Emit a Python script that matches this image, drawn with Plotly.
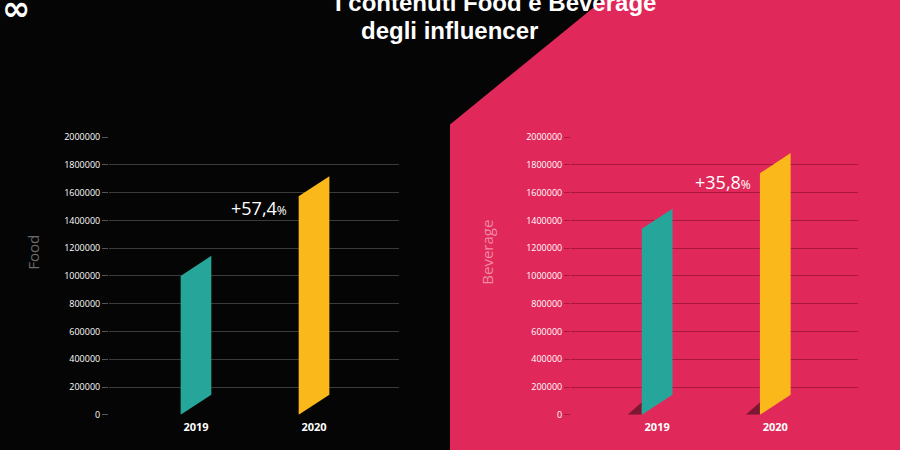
import plotly.graph_objects as go

years = ["2019", "2020"]
food = [1000000, 1574000]
beverage = [1340000, 1740000]
colors = ["#26a69a", "#fbb81b"]
growth_labels = ["+57,4", "+35,8"]
yticks = [0, 200000, 400000, 600000, 800000, 1000000, 1200000, 1400000, 1600000, 1800000, 2000000]

W, H = 900, 450
def px(x): return x / W
def py(y): return 1 - y / H

fig = go.Figure()
half = 0.13
shift = 145000

def bars(vals, xa, ya, shadow):
    for i, v in enumerate(vals):
        if shadow:
            fig.add_trace(go.Scatter(
                x=[i - half - 0.12, i - half, i - half], y=[0, 0, 90000],
                fill="toself", fillcolor="rgba(40,10,20,0.55)", line=dict(width=0),
                mode="lines", hoverinfo="skip", showlegend=False, xaxis=xa, yaxis=ya))
        fig.add_trace(go.Scatter(
            x=[i - half, i - half, i + half, i + half, i - half],
            y=[0, v, v + shift, shift, 0],
            fill="toself", fillcolor=colors[i], line=dict(width=0),
            mode="lines", hoverinfo="skip", showlegend=False, xaxis=xa, yaxis=ya))

bars(food, "x", "y", False)
bars(beverage, "x2", "y2", True)

shapes = [
    dict(type="path", xref="paper", yref="paper",
         path=f"M {px(450)} {py(470)} L {px(450)} {py(121)} L {px(612)} {py(-15)} L 1.01 {py(-15)} L 1.01 {py(470)} Z",
         fillcolor="#e0295a", line=dict(width=0), layer="below"),
]

ydom = [py(420), py(134)]
axis_common = dict(range=[0, 2000000], tickvals=yticks, ticktext=[str(t) for t in yticks],
                   ticks="outside", ticklen=6, tickfont=dict(size=9, color="white", family="Open Sans"),
                   zeroline=False, showline=False)
fig.update_layout(
    width=W, height=H, margin=dict(l=0, r=0, t=0, b=0),
    paper_bgcolor="#050505", plot_bgcolor="rgba(0,0,0,0)",
    shapes=shapes, showlegend=False,
    xaxis=dict(domain=[px(109), px(399)], range=[-0.737, 1.72], tickvals=[0, 1], ticktext=years,
               showgrid=False, zeroline=False, tickfont=dict(size=11, color="white", family="Open Sans"),
               ticklabelstandoff=4),
    yaxis=dict(domain=ydom, gridcolor="#3a3a3a", tickcolor="#555", **axis_common),
    xaxis2=dict(domain=[px(571), px(858)], range=[-0.729, 1.70], tickvals=[0, 1], ticktext=years,
                showgrid=False, zeroline=False, tickfont=dict(size=11, color="white", family="Open Sans"),
                ticklabelstandoff=4, anchor="y2"),
    yaxis2=dict(domain=ydom, gridcolor="#a8173f", tickcolor="#a8173f", anchor="x2", **axis_common),
)
fig.update_xaxes(tickfont_weight="bold")

ann = [
    dict(text="<b>I contenuti Food e Beverage</b>", x=px(495), y=py(-5), font=dict(size=24, color="white", family="Liberation Sans")),
    dict(text="<b>degli influencer</b>", x=px(449), y=py(24), font=dict(size=24, color="white", family="Liberation Sans")),
    dict(text="<b>∞</b>", x=px(16), y=py(1), font=dict(size=34, color="white", family="DejaVu Sans")),
    dict(text="Food", x=px(33), y=py(253), textangle=-90, font=dict(size=15, color="#6b6b6b", family="Open Sans")),
    dict(text="Beverage", x=px(487), y=py(253), textangle=-90, font=dict(size=15, color="#f08aa5", family="Open Sans")),
    dict(text=growth_labels[0] + "<span style='font-size:12px'>%</span>", x=px(259), y=py(207),
         font=dict(size=18, color="white", family="Open Sans")),
    dict(text=growth_labels[1] + "<span style='font-size:12px'>%</span>", x=px(723), y=py(180),
         font=dict(size=18, color="white", family="Open Sans")),
]
for a in ann:
    fig.add_annotation(xref="paper", yref="paper", showarrow=False, xanchor="center", yanchor="middle", **a)

fig.write_html("out.html", config={"displayModeBar": False},
               post_script="document.body.style.margin='0';document.body.style.background='#050505';"
                           "document.documentElement.style.background='#050505';document.body.style.overflow='hidden';")
